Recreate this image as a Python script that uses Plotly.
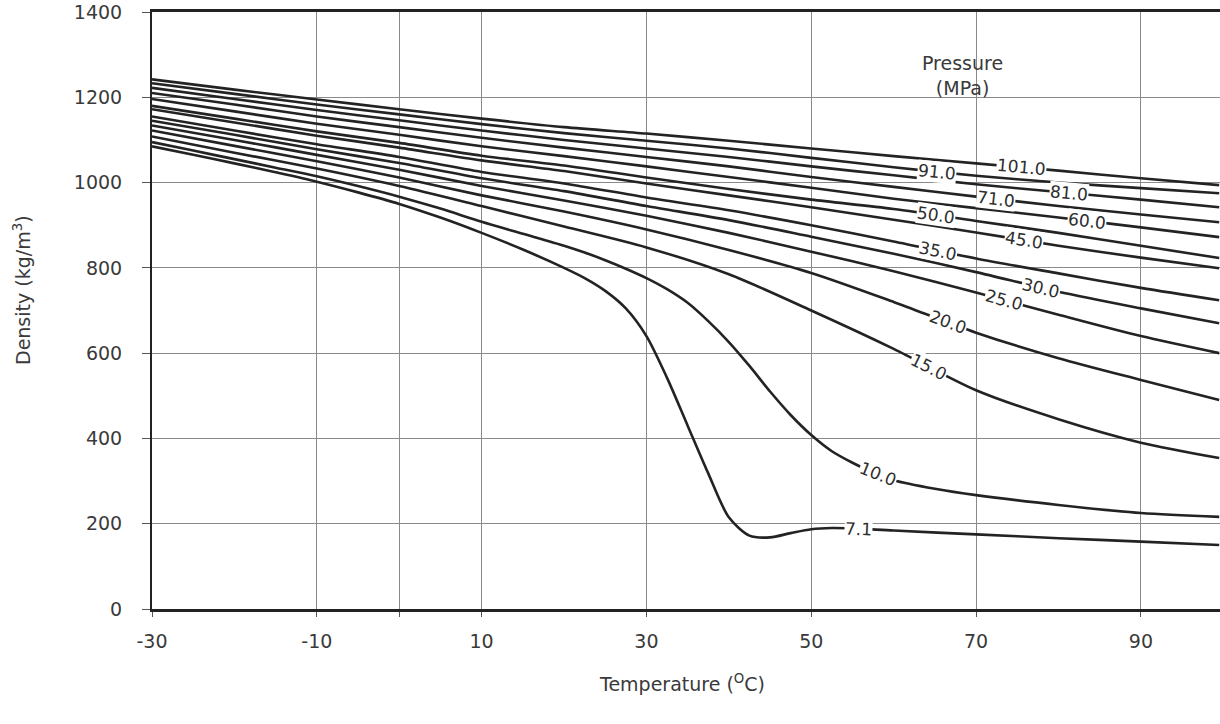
import numpy as np
import plotly.graph_objects as go

# ---------------- data ----------------
temps = [-30, -20, -10, 0, 10, 20, 30, 40, 50, 60, 70, 80, 90, 99.5]

dens_101 = [1242, 1218, 1195, 1172, 1150, 1130, 1115, 1098, 1080, 1062, 1045, 1028, 1010, 994]
dens_91 = [1233, 1208, 1183, 1160, 1137, 1116, 1098, 1080, 1058, 1036, 1016, 1000, 987, 975]
dens_81 = [1222, 1196, 1170, 1146, 1122, 1100, 1080, 1060, 1038, 1017, 996, 978, 960, 942]
dens_71 = [1210, 1183, 1155, 1130, 1105, 1082, 1060, 1038, 1013, 990, 967, 945, 925, 907]
dens_60 = [1196, 1167, 1138, 1112, 1085, 1062, 1038, 1013, 988, 962, 940, 918, 895, 872]
dens_50 = [1180, 1150, 1120, 1093, 1063, 1040, 1012, 985, 960, 938, 910, 882, 852, 823]
dens_45 = [1172, 1141, 1110, 1082, 1052, 1027, 998, 970, 942, 913, 883, 852, 824, 799]
dens_35 = [1155, 1122, 1090, 1060, 1025, 998, 965, 935, 900, 862, 822, 787, 753, 724]
dens_30 = [1145, 1112, 1078, 1046, 1010, 980, 945, 912, 873, 833, 790, 744, 705, 670]
dens_25 = [1134, 1100, 1065, 1030, 992, 958, 922, 882, 838, 792, 742, 690, 640, 600]
dens_20 = [1122, 1086, 1050, 1012, 970, 932, 890, 842, 788, 720, 648, 588, 537, 490]
dens_15 = [1108, 1070, 1033, 992, 945, 897, 848, 785, 700, 610, 513, 445, 390, 354]

temps_10 = [-30, -25, -20, -15, -10, -5, 0, 5, 10, 15, 20, 22.5, 25, 27.5, 30, 32.5, 35, 37.5,
            40, 42.5, 45, 47.5, 50, 52.5, 55, 57.5, 60, 65, 70, 80, 90, 99.5]
dens_10 = [1095, 1075, 1055, 1035, 1015, 992, 967, 939, 908, 880, 852, 836, 818, 798, 776, 750,
           718, 675, 626, 570, 510, 455, 408, 370, 343, 320, 302, 282, 267, 244, 225, 216]

temps_7_1 = [-30, -25, -20, -15, -10, -5, 0, 5, 10, 15, 20, 22.5, 25, 27.5, 30, 32.5, 35, 37.5,
             40, 42.5, 45, 47.5, 50, 52.5, 55, 60, 70, 80, 90, 99.5]
dens_7_1 = [1085, 1065, 1045, 1024, 1002, 977, 950, 918, 882, 843, 800, 776, 746, 705, 640, 542,
            430, 318, 215, 172, 168, 178, 187, 190, 189, 184, 175, 166, 158, 150]

pressure_labels = ["101.0", "91.0", "81.0", "71.0", "60.0", "50.0", "45.0",
                   "35.0", "30.0", "25.0", "20.0", "15.0", "10.0", "7.1"]
label_temps = [75.5, 65.3, 81.3, 72.4, 83.4, 65.1, 75.8, 65.4, 77.9, 73.4, 66.6, 64.3, 58.1, 55.7]

x_ticks = [-30, -10, 10, 30, 50, 70, 90]
x_ticktext = ["-30", "-10", "10", "30", "50", "70", "90"]
x_extra_grid = [0]
y_ticks = [0, 200, 400, 600, 800, 1000, 1200, 1400]

# ---------------- figure ----------------
series = [
    (temps, dens_101), (temps, dens_91), (temps, dens_81), (temps, dens_71),
    (temps, dens_60), (temps, dens_50), (temps, dens_45), (temps, dens_35),
    (temps, dens_30), (temps, dens_25), (temps, dens_20), (temps, dens_15),
    (temps_10, dens_10), (temps_7_1, dens_7_1),
]

X_RANGE = [-30, 99.6]
Y_RANGE = [0, 1400]
W, H = 1220, 724
ML, MR, MT, MB = 152, 0, 12, 115
PW, PH = W - ML - MR, H - MT - MB
kx = PW / (X_RANGE[1] - X_RANGE[0])
ky = PH / (Y_RANGE[1] - Y_RANGE[0])

fig = go.Figure()
font_family = "DejaVu Sans, Liberation Sans, Arial, sans-serif"
text_color = "#3a3a3a"

for (tx, dy), name in zip(series, pressure_labels):
    fig.add_trace(go.Scatter(
        x=tx, y=dy, mode="lines", name=name,
        line=dict(color="#232323", width=2.6, shape="spline", smoothing=0.8),
        showlegend=False, hoverinfo="skip",
    ))

annotations = []
for (tx, dy), name, lt in zip(series, pressure_labels, label_temps):
    yv = float(np.interp(lt, tx, dy))
    slope = (np.interp(lt + 1.5, tx, dy) - np.interp(lt - 1.5, tx, dy)) / 3.0
    ang = float(np.degrees(np.arctan(-slope * ky / kx)))
    annotations.append(dict(
        x=lt, y=yv, xref="x", yref="y", text=name, showarrow=False,
        textangle=ang, bgcolor="white", borderpad=0,
        font=dict(family=font_family, size=17, color="#2e2e2e"),
    ))

annotations.append(dict(
    x=68.4, y=1252, xref="x", yref="y", text="Pressure<br>(MPa)", showarrow=False,
    font=dict(family=font_family, size=19, color=text_color), align="center",
))
# axis titles
annotations.append(dict(
    x=(22 - ML) / PW, y=(H - MB - 290) / PH, xref="paper", yref="paper",
    text="Density (kg/m<sup>3</sup>)", showarrow=False, textangle=-90,
    xanchor="center", yanchor="middle",
    font=dict(family=font_family, size=19, color=text_color),
))
annotations.append(dict(
    x=(682 - ML) / PW, y=-(683 - (H - MB)) / PH, xref="paper", yref="paper",
    text="Temperature (<sup>O</sup>C)", showarrow=False,
    xanchor="center", yanchor="middle",
    font=dict(family=font_family, size=19, color=text_color),
))

fig.update_layout(
    width=W, height=H, autosize=False,
    margin=dict(l=ML, r=MR, t=MT, b=MB),
    paper_bgcolor="white", plot_bgcolor="white",
    font=dict(family=font_family, size=19, color=text_color),
    annotations=annotations,
)

fig.update_xaxes(
    range=X_RANGE, tickmode="array", tickvals=x_ticks, ticktext=x_ticktext,
    showgrid=True, gridcolor="#8a8a8a", gridwidth=1,
    minor=dict(tickmode="array", tickvals=x_extra_grid, showgrid=True,
               gridcolor="#8a8a8a", gridwidth=1, ticks="outside", ticklen=5,
               tickcolor="#555555"),
    showline=True, linecolor="#222222", linewidth=2.5, mirror=True,
    ticks="outside", ticklen=5, tickcolor="#555555", ticklabelstandoff=8,
    tickfont=dict(family=font_family, size=19, color=text_color),
    zeroline=False,
)
fig.update_yaxes(
    range=Y_RANGE, tickmode="array", tickvals=y_ticks,
    showgrid=True, gridcolor="#8a8a8a", gridwidth=1,
    showline=True, linecolor="#222222", linewidth=2,
    ticks="outside", ticklen=8, tickcolor="#555555", ticklabelstandoff=16,
    tickfont=dict(family=font_family, size=19, color=text_color),
    zeroline=False,
)

fig.write_html("out.html")
